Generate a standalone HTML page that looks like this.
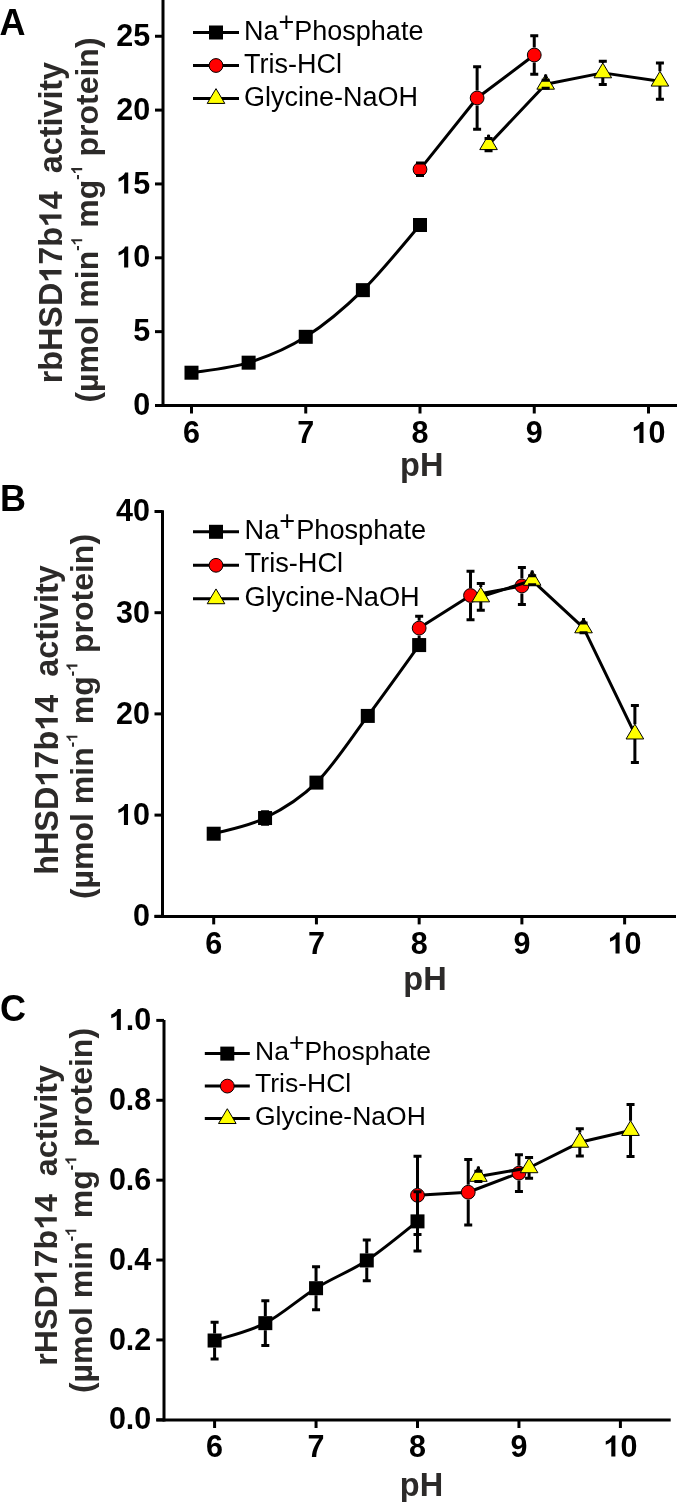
<!DOCTYPE html><html><head><meta charset="utf-8"><style>
html,body{margin:0;padding:0;background:#fff;width:677px;height:1502px;overflow:hidden}
svg{display:block;will-change:transform}
text{font-family:"Liberation Sans",sans-serif}
.tk{font-weight:bold;font-size:30.5px;fill:#000}
.lg{font-size:27px;fill:#000}
.yl{font-weight:bold;font-size:32px;fill:#2c2a29}
.sup{font-size:16px}
.h{fill-opacity:0}
.ph{font-weight:bold;font-size:32.5px;fill:#2c2a29}
.pl{font-weight:bold;font-size:36px;fill:#000}
</style></head><body>
<svg width="677" height="1502" viewBox="0 0 677 1502">
<rect width="677" height="1502" fill="#fff"/>
<path d="M163.00,0.00 V407.00" stroke="#000" stroke-width="3" fill="none"/>
<path d="M155.00,405.50 H677.00" stroke="#000" stroke-width="3" fill="none"/>
<path d="M155.00,405.50 H163.00" stroke="#000" stroke-width="3" fill="none"/>
<text x="150.20" y="415.10" text-anchor="end" class="tk">0</text>
<path d="M155.00,331.65 H163.00" stroke="#000" stroke-width="3" fill="none"/>
<text x="150.20" y="341.25" text-anchor="end" class="tk">5</text>
<path d="M155.00,257.80 H163.00" stroke="#000" stroke-width="3" fill="none"/>
<text x="150.20" y="267.40" text-anchor="end" class="tk"><tspan class="h">1</tspan>0</text>
<path d="M155.00,183.95 H163.00" stroke="#000" stroke-width="3" fill="none"/>
<text x="150.20" y="193.55" text-anchor="end" class="tk"><tspan class="h">1</tspan>5</text>
<path d="M155.00,110.10 H163.00" stroke="#000" stroke-width="3" fill="none"/>
<text x="150.20" y="119.70" text-anchor="end" class="tk">20</text>
<path d="M155.00,36.25 H163.00" stroke="#000" stroke-width="3" fill="none"/>
<text x="150.20" y="45.85" text-anchor="end" class="tk">25</text>
<path d="M191.50,405.50 V413.50" stroke="#000" stroke-width="3" fill="none"/>
<text x="191.50" y="443.00" text-anchor="middle" class="tk">6</text>
<path d="M305.75,405.50 V413.50" stroke="#000" stroke-width="3" fill="none"/>
<text x="305.75" y="443.00" text-anchor="middle" class="tk">7</text>
<path d="M420.00,405.50 V413.50" stroke="#000" stroke-width="3" fill="none"/>
<text x="420.00" y="443.00" text-anchor="middle" class="tk">8</text>
<path d="M534.25,405.50 V413.50" stroke="#000" stroke-width="3" fill="none"/>
<text x="534.25" y="443.00" text-anchor="middle" class="tk">9</text>
<path d="M648.50,405.50 V413.50" stroke="#000" stroke-width="3" fill="none"/>
<text x="648.50" y="443.00" text-anchor="middle" class="tk"><tspan class="h">1</tspan>0</text>
<text x="421.70" y="475.70" text-anchor="middle" class="ph">pH</text>
<text transform="translate(61.50,222.60) rotate(-90)" text-anchor="middle" class="yl" style="font-size:32.3px">rbHSD<tspan class="h">1</tspan>7b<tspan class="h">1</tspan>4  activity</text>
<text transform="translate(98.20,220.00) rotate(-90)" text-anchor="middle" class="yl">(µmol min<tspan dy="-16" class="sup">-<tspan class="h">1</tspan></tspan><tspan dy="16"> mg</tspan><tspan dy="-16" class="sup">-<tspan class="h">1</tspan></tspan><tspan dy="16"> protein)</tspan></text>
<text x="-0.50" y="35.10" class="pl">A</text>
<path d="M193.00,32.50 H239.00" stroke="#000" stroke-width="3" fill="none"/>
<path d="M193.00,65.50 H239.00" stroke="#000" stroke-width="3" fill="none"/>
<path d="M193.00,98.50 H239.00" stroke="#000" stroke-width="3" fill="none"/>
<rect x="209.00" y="25.50" width="14" height="14" fill="#000"/>
<circle cx="216.00" cy="65.50" r="6.90" fill="#ff0000" stroke="#000" stroke-width="1"/>
<path d="M216.00,88.63 L224.80,103.43 L207.20,103.43 Z" fill="#ffff00" stroke="#000" stroke-width="1" stroke-linejoin="miter"/>
<text x="244.00" y="39.50" class="lg" style="font-size:27px">Na<tspan dy="-8.6">+</tspan><tspan dy="8.6" dx="0">Phosphate</tspan></text>
<text x="244.00" y="72.50" class="lg" style="font-size:27px">Tris-HCl</text>
<text x="244.00" y="105.50" class="lg" style="font-size:27px">Glycine-NaOH</text>
<path d="M420.00,169.33 L477.12,97.99 L534.25,55.01" stroke="#000" stroke-width="3" fill="none" stroke-linejoin="round"/>



<circle cx="420.00" cy="169.33" r="6.90" fill="#ff0000" stroke="#000" stroke-width="1"/>
<circle cx="477.12" cy="97.99" r="6.90" fill="#ff0000" stroke="#000" stroke-width="1"/>
<circle cx="534.25" cy="55.01" r="6.90" fill="#ff0000" stroke="#000" stroke-width="1"/>
<path d="M420.00,163.12 V161.93 M420.00,176.73 V175.53 M416.00,163.12 H424.00 M416.00,175.53 H424.00" stroke="#000" stroke-width="3" fill="none"/>
<path d="M477.12,66.68 V90.59 M477.12,105.39 V129.30 M473.12,66.68 H481.12 M473.12,129.30 H481.12" stroke="#000" stroke-width="3" fill="none"/>
<path d="M534.25,35.81 V47.61 M534.25,62.41 V74.21 M530.25,35.81 H538.25 M530.25,74.21 H538.25" stroke="#000" stroke-width="3" fill="none"/>
<path d="M488.55,144.66 L545.67,84.25 L602.80,72.88 L659.92,81.15" stroke="#000" stroke-width="3" fill="none" stroke-linejoin="round"/>




<path d="M488.55,134.80 L497.35,149.60 L479.75,149.60 Z" fill="#ffff00" stroke="#000" stroke-width="1" stroke-linejoin="miter"/>
<path d="M545.67,74.39 L554.47,89.19 L536.88,89.19 Z" fill="#ffff00" stroke="#000" stroke-width="1" stroke-linejoin="miter"/>
<path d="M602.80,63.01 L611.60,77.81 L594.00,77.81 Z" fill="#ffff00" stroke="#000" stroke-width="1" stroke-linejoin="miter"/>
<path d="M659.92,71.28 L668.72,86.08 L651.12,86.08 Z" fill="#ffff00" stroke="#000" stroke-width="1" stroke-linejoin="miter"/>
<path d="M488.55,138.61 V134.80 M488.55,149.60 V150.72 M484.55,138.61 H492.55 M484.55,150.72 H492.55" stroke="#000" stroke-width="3" fill="none"/>
<path d="M545.67,80.26 V74.39 M545.67,89.19 V88.24 M541.67,80.26 H549.67 M541.67,88.24 H549.67" stroke="#000" stroke-width="3" fill="none"/>
<path d="M602.80,61.21 V63.01 M602.80,77.81 V84.55 M598.80,61.21 H606.80 M598.80,84.55 H606.80" stroke="#000" stroke-width="3" fill="none"/>
<path d="M659.92,62.98 V71.28 M659.92,86.08 V99.32 M655.92,62.98 H663.92 M655.92,99.32 H663.92" stroke="#000" stroke-width="3" fill="none"/>
<path d="M191.50,372.71 C201.02,371.04 229.58,368.65 248.62,362.67 C267.67,356.69 286.71,348.91 305.75,336.82 C324.79,324.73 343.83,308.78 362.88,290.15 C381.92,271.51 410.48,235.87 420.00,225.01" stroke="#000" stroke-width="3" fill="none"/>





<rect x="184.50" y="365.71" width="14" height="14" fill="#000"/>
<rect x="241.62" y="355.67" width="14" height="14" fill="#000"/>
<rect x="298.75" y="329.82" width="14" height="14" fill="#000"/>
<rect x="355.88" y="283.15" width="14" height="14" fill="#000"/>
<rect x="413.00" y="218.01" width="14" height="14" fill="#000"/>





<path d="M162.50,510.30 V917.90" stroke="#000" stroke-width="3" fill="none"/>
<path d="M154.50,916.40 H676.00" stroke="#000" stroke-width="3" fill="none"/>
<path d="M154.50,916.30 H162.50" stroke="#000" stroke-width="3" fill="none"/>
<text x="150.00" y="926.10" text-anchor="end" class="tk">0</text>
<path d="M154.50,815.10 H162.50" stroke="#000" stroke-width="3" fill="none"/>
<text x="150.00" y="824.90" text-anchor="end" class="tk"><tspan class="h">1</tspan>0</text>
<path d="M154.50,713.90 H162.50" stroke="#000" stroke-width="3" fill="none"/>
<text x="150.00" y="723.70" text-anchor="end" class="tk">20</text>
<path d="M154.50,612.70 H162.50" stroke="#000" stroke-width="3" fill="none"/>
<text x="150.00" y="622.50" text-anchor="end" class="tk">30</text>
<path d="M154.50,511.50 H162.50" stroke="#000" stroke-width="3" fill="none"/>
<text x="150.00" y="521.30" text-anchor="end" class="tk">40</text>
<path d="M213.70,916.40 V924.40" stroke="#000" stroke-width="3" fill="none"/>
<text x="213.70" y="953.50" text-anchor="middle" class="tk">6</text>
<path d="M316.43,916.40 V924.40" stroke="#000" stroke-width="3" fill="none"/>
<text x="316.43" y="953.50" text-anchor="middle" class="tk">7</text>
<path d="M419.16,916.40 V924.40" stroke="#000" stroke-width="3" fill="none"/>
<text x="419.16" y="953.50" text-anchor="middle" class="tk">8</text>
<path d="M521.89,916.40 V924.40" stroke="#000" stroke-width="3" fill="none"/>
<text x="521.89" y="953.50" text-anchor="middle" class="tk">9</text>
<path d="M624.62,916.40 V924.40" stroke="#000" stroke-width="3" fill="none"/>
<text x="624.62" y="953.50" text-anchor="middle" class="tk"><tspan class="h">1</tspan>0</text>
<text x="425.00" y="990.20" text-anchor="middle" class="ph">pH</text>
<text transform="translate(57.80,720.00) rotate(-90)" text-anchor="middle" class="yl" style="font-size:32.4px">hHSD<tspan class="h">1</tspan>7b<tspan class="h">1</tspan>4  activity</text>
<text transform="translate(93.40,716.50) rotate(-90)" text-anchor="middle" class="yl">(µmol min<tspan dy="-16" class="sup">-<tspan class="h">1</tspan></tspan><tspan dy="16"> mg</tspan><tspan dy="-16" class="sup">-<tspan class="h">1</tspan></tspan><tspan dy="16"> protein)</tspan></text>
<text x="0.00" y="510.50" class="pl">B</text>
<path d="M193.00,531.80 H239.00" stroke="#000" stroke-width="3" fill="none"/>
<path d="M193.00,565.30 H239.00" stroke="#000" stroke-width="3" fill="none"/>
<path d="M193.00,598.80 H239.00" stroke="#000" stroke-width="3" fill="none"/>
<rect x="209.00" y="524.80" width="14" height="14" fill="#000"/>
<circle cx="216.00" cy="565.30" r="6.90" fill="#ff0000" stroke="#000" stroke-width="1"/>
<path d="M216.00,588.93 L224.80,603.73 L207.20,603.73 Z" fill="#ffff00" stroke="#000" stroke-width="1" stroke-linejoin="miter"/>
<text x="244.50" y="538.80" class="lg" style="font-size:27.2px">Na<tspan dy="-8.6">+</tspan><tspan dy="8.6" dx="1">Phosphate</tspan></text>
<text x="244.50" y="572.30" class="lg" style="font-size:27.2px">Tris-HCl</text>
<text x="244.50" y="605.80" class="lg" style="font-size:27.2px">Glycine-NaOH</text>
<path d="M419.16,628.08 L470.52,595.50 L521.89,585.98" stroke="#000" stroke-width="3" fill="none" stroke-linejoin="round"/>



<circle cx="419.16" cy="628.08" r="6.90" fill="#ff0000" stroke="#000" stroke-width="1"/>
<circle cx="470.52" cy="595.50" r="6.90" fill="#ff0000" stroke="#000" stroke-width="1"/>
<circle cx="521.89" cy="585.98" r="6.90" fill="#ff0000" stroke="#000" stroke-width="1"/>
<path d="M419.16,616.24 V620.68 M419.16,635.48 V639.92 M415.16,616.24 H423.16 M415.16,639.92 H423.16" stroke="#000" stroke-width="3" fill="none"/>
<path d="M470.52,571.31 V588.10 M470.52,602.90 V619.68 M466.52,571.31 H474.52 M466.52,619.68 H474.52" stroke="#000" stroke-width="3" fill="none"/>
<path d="M521.89,567.56 V578.58 M521.89,593.38 V604.40 M517.89,567.56 H525.89 M517.89,604.40 H525.89" stroke="#000" stroke-width="3" fill="none"/>
<path d="M480.80,596.91 L532.16,580.32 L583.53,627.88 L634.89,734.04" stroke="#000" stroke-width="3" fill="none" stroke-linejoin="round"/>




<path d="M480.80,587.05 L489.60,601.85 L472.00,601.85 Z" fill="#ffff00" stroke="#000" stroke-width="1" stroke-linejoin="miter"/>
<path d="M532.16,570.45 L540.96,585.25 L523.36,585.25 Z" fill="#ffff00" stroke="#000" stroke-width="1" stroke-linejoin="miter"/>
<path d="M583.53,618.01 L592.33,632.81 L574.73,632.81 Z" fill="#ffff00" stroke="#000" stroke-width="1" stroke-linejoin="miter"/>
<path d="M634.89,724.17 L643.69,738.97 L626.09,738.97 Z" fill="#ffff00" stroke="#000" stroke-width="1" stroke-linejoin="miter"/>
<path d="M480.80,583.55 V587.05 M480.80,601.85 V610.27 M476.80,583.55 H484.80 M476.80,610.27 H484.80" stroke="#000" stroke-width="3" fill="none"/>
<path d="M532.16,575.76 V570.45 M532.16,585.25 V584.87 M528.16,575.76 H536.16 M528.16,584.87 H536.16" stroke="#000" stroke-width="3" fill="none"/>
<path d="M583.53,623.02 V618.01 M583.53,632.81 V632.74 M579.53,623.02 H587.53 M579.53,632.74 H587.53" stroke="#000" stroke-width="3" fill="none"/>
<path d="M634.89,705.50 V724.17 M634.89,738.97 V762.58 M630.89,705.50 H638.89 M630.89,762.58 H638.89" stroke="#000" stroke-width="3" fill="none"/>
<path d="M213.70,833.72 C222.26,831.11 247.94,826.55 265.06,818.03 C282.19,809.52 299.31,799.63 316.43,782.61 C333.55,765.60 350.67,738.85 367.79,715.92 C384.92,693.00 410.60,656.89 419.16,645.08" stroke="#000" stroke-width="3" fill="none"/>





<rect x="206.70" y="826.72" width="14" height="14" fill="#000"/>
<rect x="258.06" y="811.03" width="14" height="14" fill="#000"/>
<rect x="309.43" y="775.61" width="14" height="14" fill="#000"/>
<rect x="360.79" y="708.92" width="14" height="14" fill="#000"/>
<rect x="412.16" y="638.08" width="14" height="14" fill="#000"/>

<path d="M265.06,811.86 V811.03 M265.06,825.03 V824.21 M261.06,811.86 H269.06 M261.06,824.21 H269.06" stroke="#000" stroke-width="3" fill="none"/>



<path d="M164.00,1020.00 V1421.50" stroke="#000" stroke-width="3" fill="none"/>
<path d="M156.30,1420.00 H670.70" stroke="#000" stroke-width="3" fill="none"/>
<path d="M156.30,1419.80 H164.00" stroke="#000" stroke-width="3" fill="none"/>
<text x="151.30" y="1429.40" text-anchor="end" class="tk">0.0</text>
<path d="M156.30,1339.92 H164.00" stroke="#000" stroke-width="3" fill="none"/>
<text x="151.30" y="1349.52" text-anchor="end" class="tk">0.2</text>
<path d="M156.30,1260.04 H164.00" stroke="#000" stroke-width="3" fill="none"/>
<text x="151.30" y="1269.64" text-anchor="end" class="tk">0.4</text>
<path d="M156.30,1180.16 H164.00" stroke="#000" stroke-width="3" fill="none"/>
<text x="151.30" y="1189.76" text-anchor="end" class="tk">0.6</text>
<path d="M156.30,1100.28 H164.00" stroke="#000" stroke-width="3" fill="none"/>
<text x="151.30" y="1109.88" text-anchor="end" class="tk">0.8</text>
<path d="M156.30,1020.40 H164.00" stroke="#000" stroke-width="3" fill="none"/>
<text x="151.30" y="1030.00" text-anchor="end" class="tk"><tspan class="h">1</tspan>.0</text>
<path d="M214.60,1420.00 V1428.00" stroke="#000" stroke-width="3" fill="none"/>
<text x="214.60" y="1456.60" text-anchor="middle" class="tk">6</text>
<path d="M316.05,1420.00 V1428.00" stroke="#000" stroke-width="3" fill="none"/>
<text x="316.05" y="1456.60" text-anchor="middle" class="tk">7</text>
<path d="M417.50,1420.00 V1428.00" stroke="#000" stroke-width="3" fill="none"/>
<text x="417.50" y="1456.60" text-anchor="middle" class="tk">8</text>
<path d="M518.95,1420.00 V1428.00" stroke="#000" stroke-width="3" fill="none"/>
<text x="518.95" y="1456.60" text-anchor="middle" class="tk">9</text>
<path d="M620.40,1420.00 V1428.00" stroke="#000" stroke-width="3" fill="none"/>
<text x="620.40" y="1456.60" text-anchor="middle" class="tk"><tspan class="h">1</tspan>0</text>
<text x="421.50" y="1495.50" text-anchor="middle" class="ph">pH</text>
<text transform="translate(56.80,1215.50) rotate(-90)" text-anchor="middle" class="yl" style="font-size:32.2px">rHSD<tspan class="h">1</tspan>7b<tspan class="h">1</tspan>4  activity</text>
<text transform="translate(92.30,1210.50) rotate(-90)" text-anchor="middle" class="yl">(µmol min<tspan dy="-16" class="sup">-<tspan class="h">1</tspan></tspan><tspan dy="16"> mg</tspan><tspan dy="-16" class="sup">-<tspan class="h">1</tspan></tspan><tspan dy="16"> protein)</tspan></text>
<text x="0.00" y="1021.00" class="pl">C</text>
<path d="M204.80,1053.60 H249.80" stroke="#000" stroke-width="3" fill="none"/>
<path d="M204.80,1086.10 H249.80" stroke="#000" stroke-width="3" fill="none"/>
<path d="M204.80,1118.60 H249.80" stroke="#000" stroke-width="3" fill="none"/>
<rect x="220.30" y="1046.60" width="14" height="14" fill="#000"/>
<circle cx="227.30" cy="1086.10" r="6.90" fill="#ff0000" stroke="#000" stroke-width="1"/>
<path d="M227.30,1108.73 L236.10,1123.53 L218.50,1123.53 Z" fill="#ffff00" stroke="#000" stroke-width="1" stroke-linejoin="miter"/>
<text x="255.00" y="1059.60" class="lg" style="font-size:26.5px">Na<tspan dy="-8.6">+</tspan><tspan dy="8.6" dx="0">Phosphate</tspan></text>
<text x="255.00" y="1092.10" class="lg" style="font-size:26.5px">Tris-HCl</text>
<text x="255.00" y="1124.60" class="lg" style="font-size:26.5px">Glycine-NaOH</text>
<path d="M417.50,1195.30 L468.23,1192.26 L518.95,1173.09" stroke="#000" stroke-width="3" fill="none" stroke-linejoin="round"/>



<circle cx="417.50" cy="1195.30" r="6.90" fill="#ff0000" stroke="#000" stroke-width="1"/>
<circle cx="468.23" cy="1192.26" r="6.90" fill="#ff0000" stroke="#000" stroke-width="1"/>
<circle cx="518.95" cy="1173.09" r="6.90" fill="#ff0000" stroke="#000" stroke-width="1"/>
<path d="M417.50,1156.16 V1187.90 M417.50,1202.70 V1234.44 M413.50,1156.16 H421.50 M413.50,1234.44 H421.50" stroke="#000" stroke-width="3" fill="none"/>
<path d="M468.23,1159.51 V1184.86 M468.23,1199.66 V1225.01 M464.23,1159.51 H472.23 M464.23,1225.01 H472.23" stroke="#000" stroke-width="3" fill="none"/>
<path d="M518.95,1154.72 V1165.69 M518.95,1180.49 V1191.46 M514.95,1154.72 H522.95 M514.95,1191.46 H522.95" stroke="#000" stroke-width="3" fill="none"/>
<path d="M478.37,1176.41 L529.09,1167.78 L579.82,1142.30 L630.54,1130.51" stroke="#000" stroke-width="3" fill="none" stroke-linejoin="round"/>




<path d="M478.37,1166.54 L487.17,1181.34 L469.57,1181.34 Z" fill="#ffff00" stroke="#000" stroke-width="1" stroke-linejoin="miter"/>
<path d="M529.09,1157.91 L537.89,1172.71 L520.29,1172.71 Z" fill="#ffff00" stroke="#000" stroke-width="1" stroke-linejoin="miter"/>
<path d="M579.82,1132.43 L588.62,1147.23 L571.02,1147.23 Z" fill="#ffff00" stroke="#000" stroke-width="1" stroke-linejoin="miter"/>
<path d="M630.54,1120.65 L639.34,1135.45 L621.75,1135.45 Z" fill="#ffff00" stroke="#000" stroke-width="1" stroke-linejoin="miter"/>
<path d="M478.37,1171.21 V1166.54 M478.37,1181.34 V1181.60 M474.37,1171.21 H482.37 M474.37,1181.60 H482.37" stroke="#000" stroke-width="3" fill="none"/>
<path d="M529.09,1157.39 V1157.91 M529.09,1172.71 V1178.16 M525.09,1157.39 H533.09 M525.09,1178.16 H533.09" stroke="#000" stroke-width="3" fill="none"/>
<path d="M579.82,1128.72 V1132.43 M579.82,1147.23 V1155.88 M575.82,1128.72 H583.82 M575.82,1155.88 H583.82" stroke="#000" stroke-width="3" fill="none"/>
<path d="M630.54,1104.55 V1120.65 M630.54,1135.45 V1156.48 M626.54,1104.55 H634.54 M626.54,1156.48 H634.54" stroke="#000" stroke-width="3" fill="none"/>
<path d="M214.60,1340.52 C223.05,1337.62 248.42,1331.87 265.32,1323.15 C282.23,1314.42 299.14,1298.65 316.05,1288.20 C332.96,1277.75 349.87,1271.58 366.77,1260.44 C383.68,1249.30 409.05,1227.89 417.50,1221.38" stroke="#000" stroke-width="3" fill="none"/>





<rect x="207.60" y="1333.52" width="14" height="14" fill="#000"/>
<rect x="258.32" y="1316.15" width="14" height="14" fill="#000"/>
<rect x="309.05" y="1281.20" width="14" height="14" fill="#000"/>
<rect x="359.77" y="1253.44" width="14" height="14" fill="#000"/>
<rect x="410.50" y="1214.38" width="14" height="14" fill="#000"/>
<path d="M214.60,1322.15 V1333.52 M214.60,1347.52 V1358.89 M210.60,1322.15 H218.60 M210.60,1358.89 H218.60" stroke="#000" stroke-width="3" fill="none"/>
<path d="M265.32,1300.78 V1316.15 M265.32,1330.15 V1345.51 M261.32,1300.78 H269.32 M261.32,1345.51 H269.32" stroke="#000" stroke-width="3" fill="none"/>
<path d="M316.05,1266.63 V1281.20 M316.05,1295.20 V1309.77 M312.05,1266.63 H320.05 M312.05,1309.77 H320.05" stroke="#000" stroke-width="3" fill="none"/>
<path d="M366.77,1240.07 V1253.44 M366.77,1267.44 V1280.81 M362.77,1240.07 H370.77 M362.77,1280.81 H370.77" stroke="#000" stroke-width="3" fill="none"/>
<path d="M417.50,1191.82 V1214.38 M417.50,1228.38 V1250.93 M413.50,1191.82 H421.50 M413.50,1250.93 H421.50" stroke="#000" stroke-width="3" fill="none"/>
<path transform="translate(116.26,267.40) scale(0.01489,-0.01489)" d="M803,0 L528,0 L528,996 Q377,860 156,796 L156,1035 Q272,1072 408,1173 Q544,1274 594,1409 L803,1409 Z" fill="rgb(0, 0, 0)"/>
<path transform="translate(116.26,193.55) scale(0.01489,-0.01489)" d="M803,0 L528,0 L528,996 Q377,860 156,796 L156,1035 Q272,1072 408,1173 Q544,1274 594,1409 L803,1409 Z" fill="rgb(0, 0, 0)"/>
<path transform="translate(631.53,443.00) scale(0.01489,-0.01489)" d="M803,0 L528,0 L528,996 Q377,860 156,796 L156,1035 Q272,1072 408,1173 Q544,1274 594,1409 L803,1409 Z" fill="rgb(0, 0, 0)"/>
<path transform="translate(61.50,222.60) rotate(-90) translate(-60.18,0.00) scale(0.01577,-0.01577)" d="M803,0 L528,0 L528,996 Q377,860 156,796 L156,1035 Q272,1072 408,1173 Q544,1274 594,1409 L803,1409 Z" fill="rgb(44, 42, 41)"/>
<path transform="translate(61.50,222.60) rotate(-90) translate(-4.51,0.00) scale(0.01577,-0.01577)" d="M803,0 L528,0 L528,996 Q377,860 156,796 L156,1035 Q272,1072 408,1173 Q544,1274 594,1409 L803,1409 Z" fill="rgb(44, 42, 41)"/>
<path transform="translate(98.20,220.00) rotate(-90) translate(-25.46,-16.00) scale(0.00781,-0.00781)" d="M803,0 L528,0 L528,996 Q377,860 156,796 L156,1035 Q272,1072 408,1173 Q544,1274 594,1409 L803,1409 Z" fill="rgb(44, 42, 41)"/>
<path transform="translate(98.20,220.00) rotate(-90) translate(45.66,-16.00) scale(0.00781,-0.00781)" d="M803,0 L528,0 L528,996 Q377,860 156,796 L156,1035 Q272,1072 408,1173 Q544,1274 594,1409 L803,1409 Z" fill="rgb(44, 42, 41)"/>
<path transform="translate(116.06,824.90) scale(0.01489,-0.01489)" d="M803,0 L528,0 L528,996 Q377,860 156,796 L156,1035 Q272,1072 408,1173 Q544,1274 594,1409 L803,1409 Z" fill="rgb(0, 0, 0)"/>
<path transform="translate(607.65,953.50) scale(0.01489,-0.01489)" d="M803,0 L528,0 L528,996 Q377,860 156,796 L156,1035 Q272,1072 408,1173 Q544,1274 594,1409 L803,1409 Z" fill="rgb(0, 0, 0)"/>
<path transform="translate(57.80,720.00) rotate(-90) translate(-66.65,0.00) scale(0.01582,-0.01582)" d="M803,0 L528,0 L528,996 Q377,860 156,796 L156,1035 Q272,1072 408,1173 Q544,1274 594,1409 L803,1409 Z" fill="rgb(44, 42, 41)"/>
<path transform="translate(57.80,720.00) rotate(-90) translate(-10.82,0.00) scale(0.01582,-0.01582)" d="M803,0 L528,0 L528,996 Q377,860 156,796 L156,1035 Q272,1072 408,1173 Q544,1274 594,1409 L803,1409 Z" fill="rgb(44, 42, 41)"/>
<path transform="translate(93.40,716.50) rotate(-90) translate(-25.46,-16.00) scale(0.00781,-0.00781)" d="M803,0 L528,0 L528,996 Q377,860 156,796 L156,1035 Q272,1072 408,1173 Q544,1274 594,1409 L803,1409 Z" fill="rgb(44, 42, 41)"/>
<path transform="translate(93.40,716.50) rotate(-90) translate(45.66,-16.00) scale(0.00781,-0.00781)" d="M803,0 L528,0 L528,996 Q377,860 156,796 L156,1035 Q272,1072 408,1173 Q544,1274 594,1409 L803,1409 Z" fill="rgb(44, 42, 41)"/>
<path transform="translate(108.89,1030.00) scale(0.01489,-0.01489)" d="M803,0 L528,0 L528,996 Q377,860 156,796 L156,1035 Q272,1072 408,1173 Q544,1274 594,1409 L803,1409 Z" fill="rgb(0, 0, 0)"/>
<path transform="translate(603.43,1456.60) scale(0.01489,-0.01489)" d="M803,0 L528,0 L528,996 Q377,860 156,796 L156,1035 Q272,1072 408,1173 Q544,1274 594,1409 L803,1409 Z" fill="rgb(0, 0, 0)"/>
<path transform="translate(56.80,1215.50) rotate(-90) translate(-69.80,0.00) scale(0.01572,-0.01572)" d="M803,0 L528,0 L528,996 Q377,860 156,796 L156,1035 Q272,1072 408,1173 Q544,1274 594,1409 L803,1409 Z" fill="rgb(44, 42, 41)"/>
<path transform="translate(56.80,1215.50) rotate(-90) translate(-14.32,0.00) scale(0.01572,-0.01572)" d="M803,0 L528,0 L528,996 Q377,860 156,796 L156,1035 Q272,1072 408,1173 Q544,1274 594,1409 L803,1409 Z" fill="rgb(44, 42, 41)"/>
<path transform="translate(92.30,1210.50) rotate(-90) translate(-25.46,-16.00) scale(0.00781,-0.00781)" d="M803,0 L528,0 L528,996 Q377,860 156,796 L156,1035 Q272,1072 408,1173 Q544,1274 594,1409 L803,1409 Z" fill="rgb(44, 42, 41)"/>
<path transform="translate(92.30,1210.50) rotate(-90) translate(45.66,-16.00) scale(0.00781,-0.00781)" d="M803,0 L528,0 L528,996 Q377,860 156,796 L156,1035 Q272,1072 408,1173 Q544,1274 594,1409 L803,1409 Z" fill="rgb(44, 42, 41)"/>
</svg></body></html>
